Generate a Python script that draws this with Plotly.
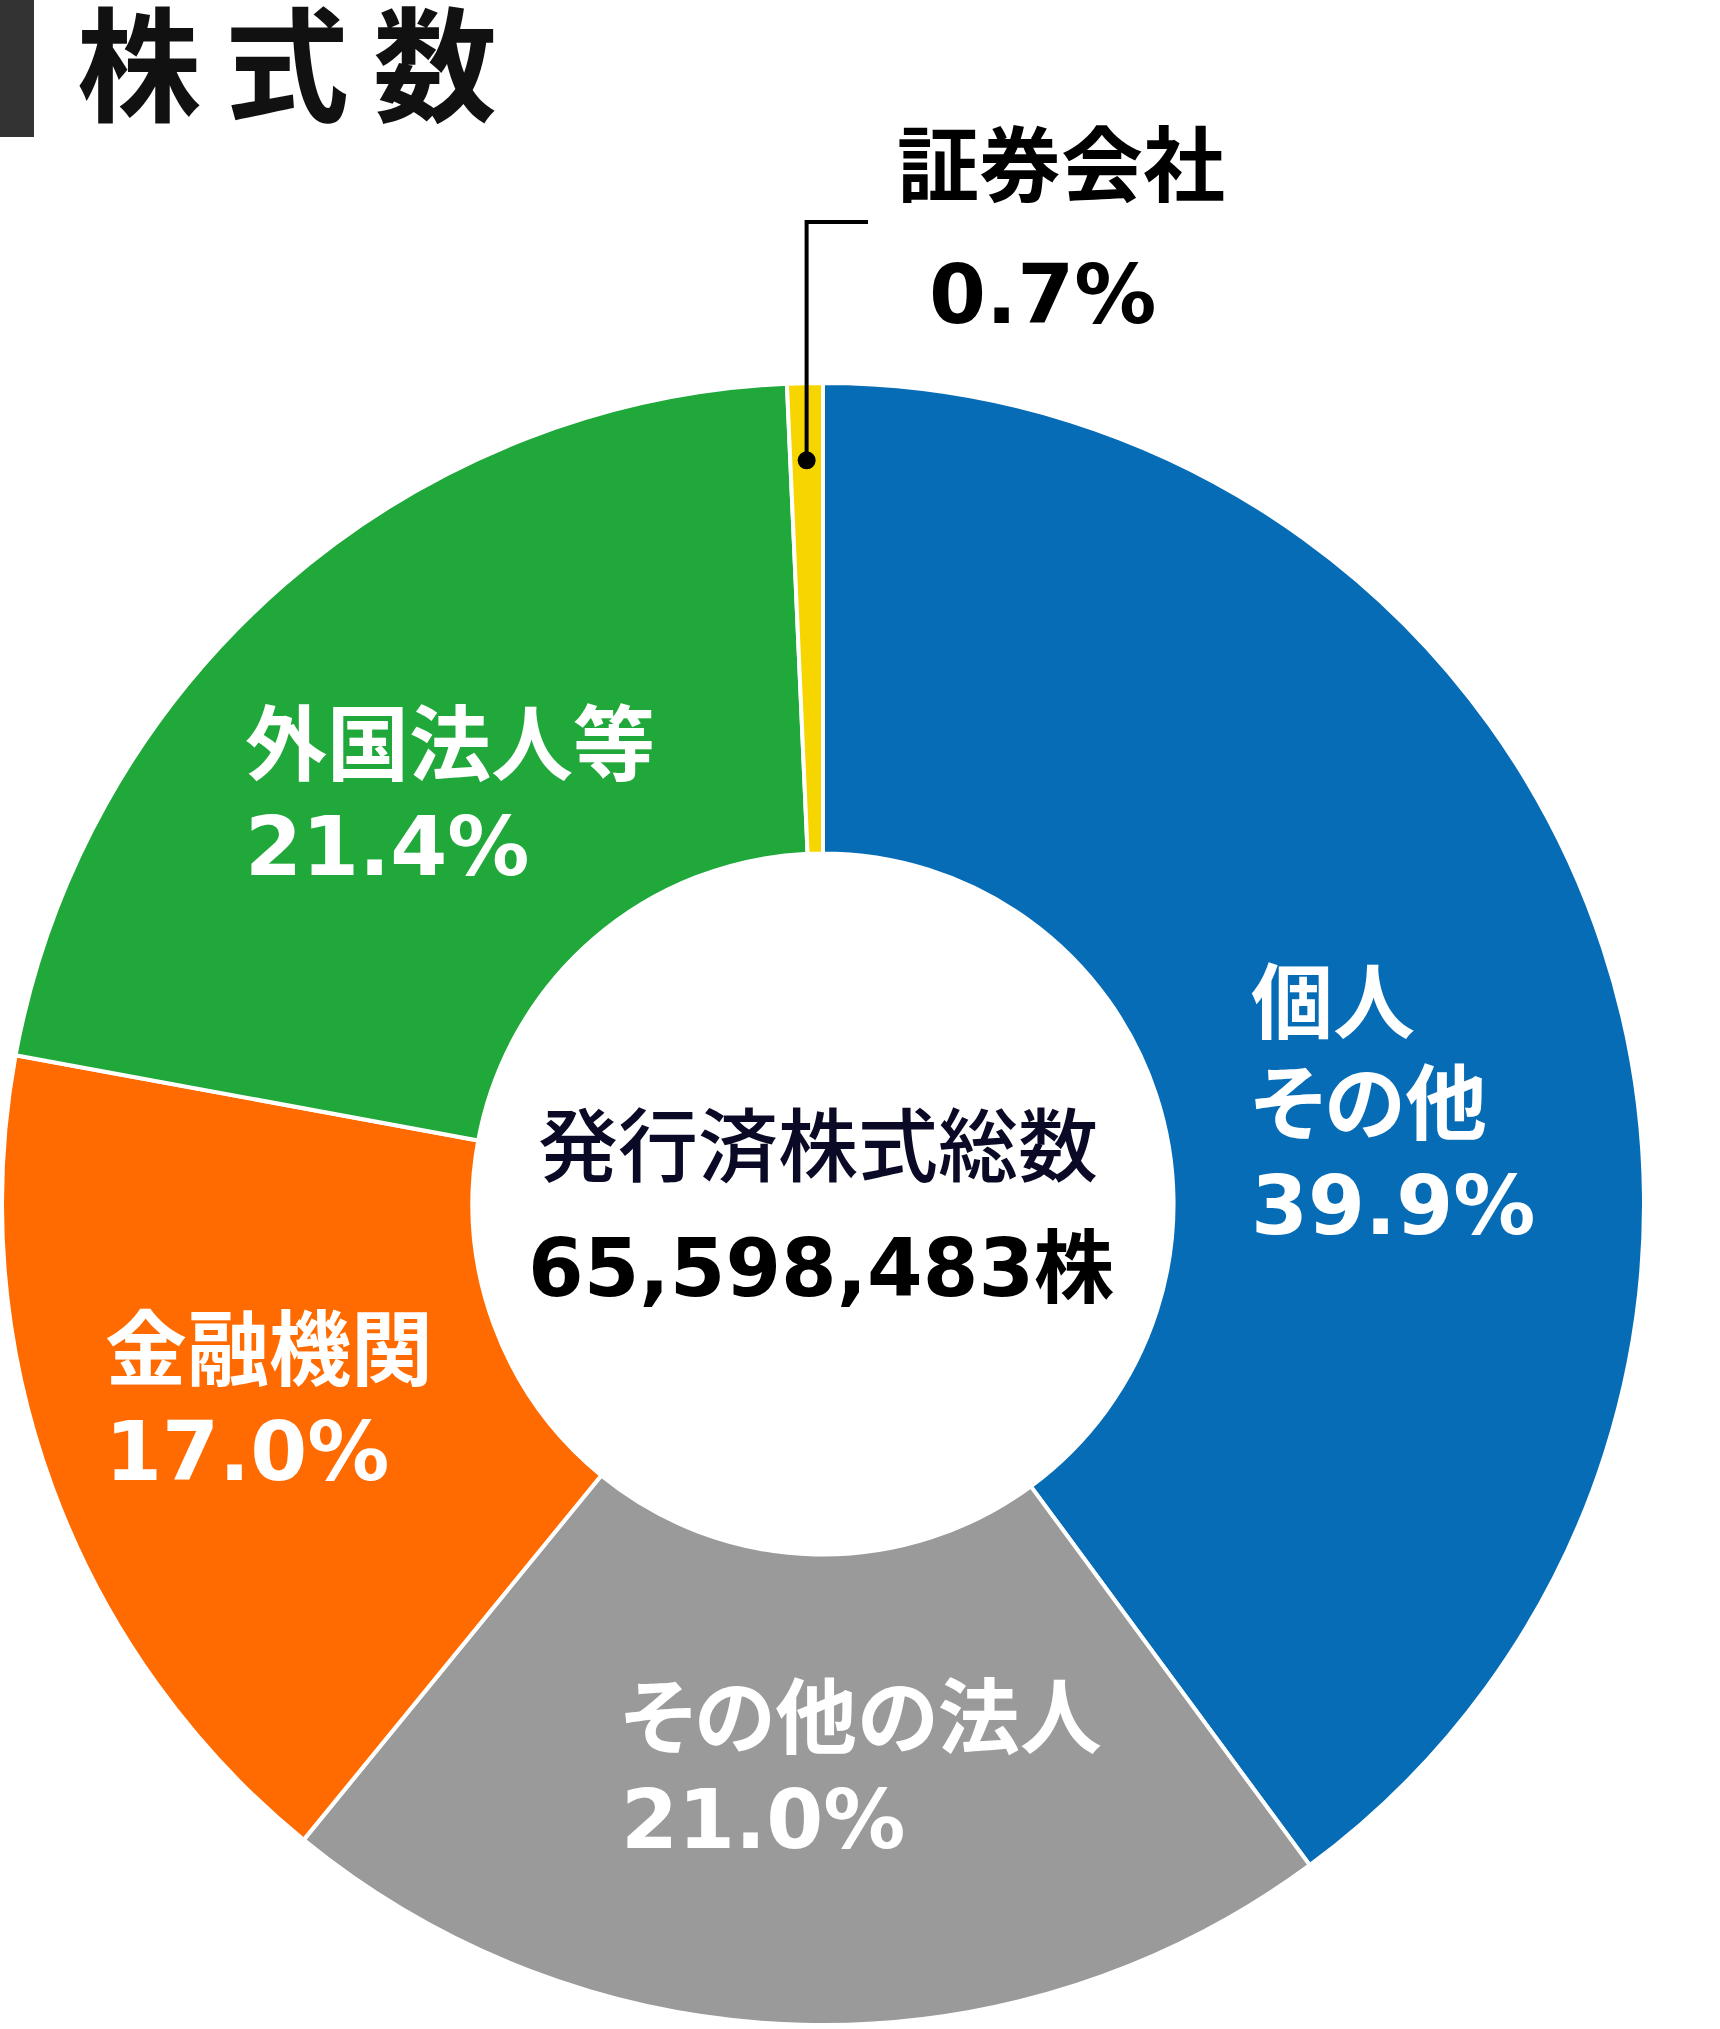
import math
import plotly.graph_objects as go

# ---------------- data ----------------
categories = ["個人その他", "その他の法人", "金融機関", "外国法人等", "証券会社"]
label_lines = [["個人", "その他"], ["その他の法人"], ["金融機関"], ["外国法人等"], ["証券会社"]]
shares = [39.9, 21.0, 17.0, 21.4, 0.7]
title_text = "株式数"
center_title = "発行済株式総数"
center_value = "65,598,483株"

# ---------------- style ----------------
colors = ["#066CB6", "#9A9A9A", "#FF6B00", "#20A93A", "#F7D600"]
W, H = 1720, 2029
CX, CY, R = 823, 1204, 821
HOLE = 0.427
LAT = "DejaVu Sans, Noto Sans CJK JP, sans-serif"
CJK = "Noto Sans CJK JP, sans-serif"

# label anchor (left x, first line centre y) and colour per slice
label_pos = [(1249, 1003), (619, 1718), (103, 1350), (243, 745), (895, 166)]
label_col = ["white", "white", "white", "white", "black"]
LINE_PITCH = 101
LABEL_SIZE = 82


def prop(t):
    # proportional kana metrics, as in the reference typeface
    return f"<span style=\"font-feature-settings:'palt'\">{t}</span>"


fig = go.Figure()
fig.add_trace(go.Pie(
    values=shares, labels=categories, sort=False, direction="clockwise", rotation=0,
    hole=HOLE, textinfo="none", hoverinfo="label+percent", showlegend=False,
    marker=dict(colors=colors, line=dict(color="white", width=4)),
    domain=dict(x=[(CX - R) / W, (CX + R) / W], y=[(H - CY - R) / H, (H - CY + R) / H]),
))
# invisible trace to establish pixel-space axes
fig.add_trace(go.Scatter(x=[0, W], y=[0, H], mode="markers", marker=dict(opacity=0),
                         hoverinfo="skip", showlegend=False))

annotations = []
# slice labels
for i, lines in enumerate(label_lines):
    lx, ly = label_pos[i]
    rows = [prop(t) for t in lines] + [f"{shares[i]:.1f}%"]
    for j, t in enumerate(rows):
        yy = ly + j * LINE_PITCH
        if i == 4 and j == 1:
            # the small slice: percentage sits centred under its name
            annotations.append(dict(x=lx + 147, y=ly + 128, text=t, xanchor="center", yanchor="middle",
                                    showarrow=False, font=dict(family=LAT, size=LABEL_SIZE, color=label_col[i], weight="bold")))
            continue
        annotations.append(dict(x=lx, y=yy, text=t, xanchor="left", yanchor="middle", showarrow=False,
                                font=dict(family=LAT, size=LABEL_SIZE, color=label_col[i], weight="bold")))

# centre texts
annotations.append(dict(x=818, y=1140, text=center_title, xanchor="center", yanchor="middle", showarrow=False,
                        font=dict(family=CJK, size=80, color="#0A0A26", weight=500)))
annotations.append(dict(x=821, y=1268, text=center_value, xanchor="center", yanchor="middle", showarrow=False,
                        font=dict(family=LAT, size=80, color="black", weight="bold")))

# title characters
for k, ch in enumerate(title_text):
    annotations.append(dict(x=139 + 148 * k, y=69, text=ch, xanchor="center", yanchor="middle", showarrow=False,
                            font=dict(family=LAT, size=124, color="#111111", weight="bold")))

# callout dot for the smallest slice, placed at its mid angle
cum_before = sum(shares[:4])
mid_frac = (cum_before + shares[4] / 2) / sum(shares)
theta = 2 * math.pi * mid_frac
r_dot = 0.906 * R
dx = CX + r_dot * math.sin(theta)
dy = CY - r_dot * math.cos(theta)

shapes = [
    dict(type="rect", xref="x", yref="y", x0=0, x1=34, y0=0, y1=137, fillcolor="#333333", line=dict(width=0)),
    dict(type="path", xref="x", yref="y", path=f"M {dx:.1f},{dy:.1f} L {dx:.1f},222 L 868,222",
         line=dict(color="black", width=4), layer="above"),
    dict(type="circle", xref="x", yref="y", x0=dx - 9, x1=dx + 9, y0=dy - 9, y1=dy + 9,
         fillcolor="black", line=dict(width=0), layer="above"),
]

fig.update_layout(
    width=W, height=H, margin=dict(l=0, r=0, t=0, b=0, pad=0),
    paper_bgcolor="white", plot_bgcolor="rgba(0,0,0,0)",
    xaxis=dict(range=[0, W], visible=False, fixedrange=True, domain=[0, 1]),
    yaxis=dict(range=[H, 0], visible=False, fixedrange=True, domain=[0, 1]),
    annotations=annotations, shapes=shapes, showlegend=False,
)
fig.write_html("out.html")
